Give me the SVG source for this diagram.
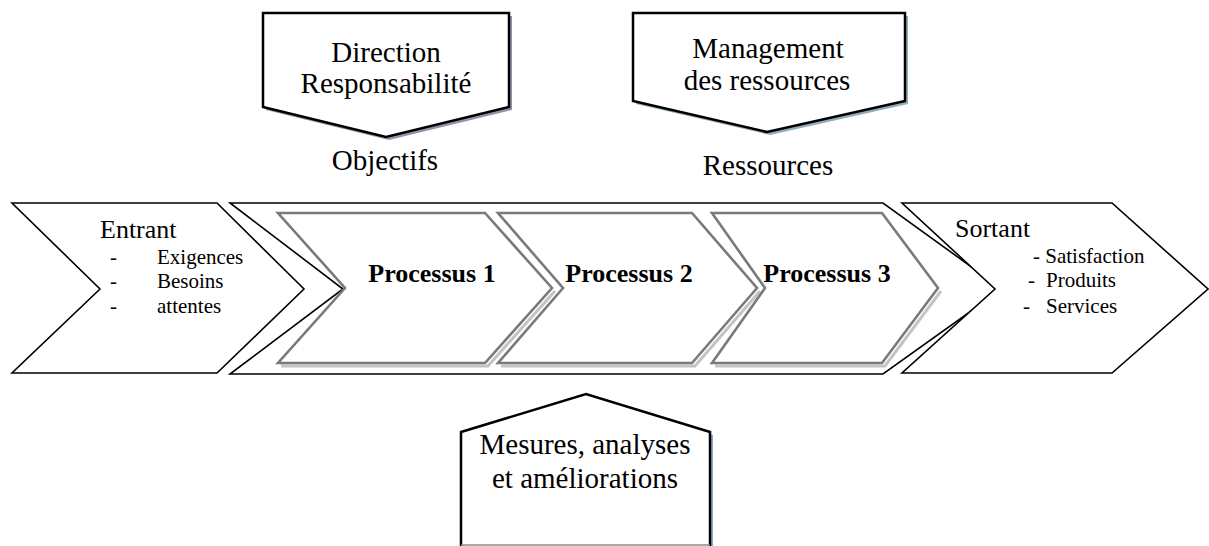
<svg xmlns="http://www.w3.org/2000/svg" width="1209" height="546" viewBox="0 0 1209 546">
  <style>
    text { font-family: "Liberation Serif", "Times New Roman", serif; fill: #000; }
    .big { font-size: 29px; text-anchor: middle; }
    .head { font-size: 26px; }
    .item { font-size: 21px; }
    .proc { font-size: 26px; font-weight: bold; text-anchor: middle; }
    .outline { fill: #fff; stroke: #000; stroke-width: 1.6; stroke-linejoin: miter; }
    .banner { fill: #fff; stroke: #000; stroke-width: 2.5; stroke-linejoin: miter; }
    .step { fill: #fff; stroke: #7a7a7a; stroke-width: 2.6; stroke-linejoin: miter; }
    .step-shadow { fill: none; stroke: #c4c4c4; stroke-width: 3; }
  </style>
  <rect width="1209" height="546" fill="#fff"/>

  <!-- top banners -->
  <g id="direction">
    <polygon points="266,16 512,16 512,110 389,140 266,110" fill="#9a90aa"/>
    <polygon class="banner" points="263,13 509,13 509,107 386,137 263,107"/>
    <text class="big" x="386" y="62">Direction</text>
    <text class="big" x="386" y="93">Responsabilité</text>
    <text class="big" x="385" y="170">Objectifs</text>
  </g>
  <g id="management">
    <polygon points="636,16 908,16 908,104 770,135 636,104" fill="#93adb8"/>
    <polygon class="banner" points="633,13 905,13 905,101 767,132 633,101"/>
    <text class="big" x="768" y="58">Management</text>
    <text class="big" x="767" y="90">des ressources</text>
    <text class="big" x="768" y="175">Ressources</text>
  </g>

  <!-- input chevron -->
  <g id="entrant">
    <polygon class="outline" points="12,203 217,203 304,289 217,373 12,373 100,289"/>
    <text class="head" x="100" y="238">Entrant</text>
    <text class="item" x="110" y="264">-</text>
    <text class="item" x="157" y="264">Exigences</text>
    <text class="item" x="110" y="288">-</text>
    <text class="item" x="157" y="288">Besoins</text>
    <text class="item" x="110" y="313">-</text>
    <text class="item" x="157" y="313">attentes</text>
  </g>

  <!-- process envelope -->
  <g id="processus">
    <polygon class="outline" points="230,203 883,203 1002,289 883,374 230,374 343,289"/>
  </g>

  <g id="processus-1">
    <polyline class="step-shadow" points="555,291 488,366 281,366"/>
    <polygon class="step" points="278,213 485,213 552,288 485,363 278,363 345,288"/>
    <text class="proc" x="432" y="282">Processus 1</text>
  </g>
  <g id="processus-2">
    <polyline class="step-shadow" points="760,291 695,366 501,366"/>
    <polygon class="step" points="498,213 692,213 757,288 692,363 498,363 563,288"/>
    <text class="proc" x="629" y="282">Processus 2</text>
  </g>
  <g id="processus-3">
    <polyline class="step-shadow" points="941,291 885,366 715,366"/>
    <polygon class="step" points="712,213 882,213 938,288 882,363 712,363 765,288"/>
    <text class="proc" x="827" y="282">Processus 3</text>
  </g>

  <!-- output chevron -->
  <g id="sortant">
    <polygon class="outline" points="902,203 1112,203 1208,289 1112,373 902,373 995,289"/>
    <text class="head" x="955" y="237">Sortant</text>
    <text class="item" x="1033" y="263">- Satisfaction</text>
    <text class="item" x="1028" y="287">-</text>
    <text class="item" x="1046" y="287">Produits</text>
    <text class="item" x="1023" y="313">-</text>
    <text class="item" x="1046" y="313">Services</text>
  </g>

  <!-- bottom feedback banner -->
  <g id="mesures">
    <polygon points="464,435 589,397 713,435 713,560 464,560" fill="#93a5b8"/>
    <polygon class="banner" points="461,432 586,394 710,432 710,560 461,560"/>
    <line x1="461" y1="545" x2="710" y2="545" stroke="#8a8a8a" stroke-width="1.5"/>
    <text class="big" x="585" y="454">Mesures, analyses</text>
    <text class="big" x="585" y="488">et améliorations</text>
  </g>

  <g id="connectors"></g>
</svg>
